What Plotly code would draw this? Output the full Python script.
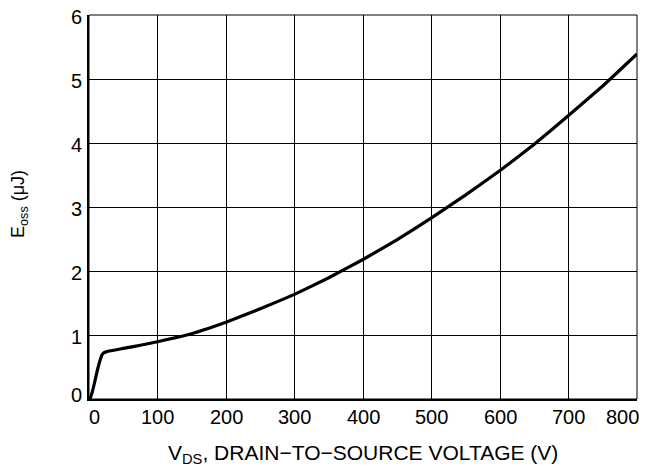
import plotly.graph_objects as go

vds = [0, 2, 4, 8, 12, 16, 19, 22, 26, 50, 75, 100, 125, 150, 175, 200, 250, 300, 350,
       400, 450, 500, 550, 600, 650, 700, 750, 800]
eoss = [0, 0.02, 0.08, 0.25, 0.44, 0.6, 0.69, 0.725, 0.74, 0.79, 0.84, 0.895, 0.955,
        1.02, 1.105, 1.2, 1.41, 1.635, 1.895, 2.18, 2.49, 2.83, 3.19, 3.57, 3.98,
        4.43, 4.89, 5.39]

x_ticks = [0, 100, 200, 300, 400, 500, 600, 700, 800]
x_ticktext = ["0", "100", "200", "300", "400", "500", "600", "700", "800"]
y_ticks = [0, 1, 2, 3, 4, 5, 6]
y_ticktext = ["0", "1", "2", "3", "4", "5", "6"]

x_title = "V<sub>DS</sub>, DRAIN\u2212TO\u2212SOURCE VOLTAGE (V)"
y_title = "E<sub>oss</sub> (\u03bcJ)"

font = "Liberation Sans, Arial, Helvetica, sans-serif"

fig = go.Figure()
fig.add_trace(go.Scatter(x=vds, y=eoss, mode="lines",
                         line=dict(color="black", width=3.2, shape="spline", smoothing=0.3),
                         showlegend=False, hoverinfo="skip"))

# tick labels as annotations so the end labels can sit inside the frame
annots = []
for i, (v, t) in enumerate(zip(x_ticks, x_ticktext)):
    shift = 0
    if i == 0:
        shift = 5
    elif i == len(x_ticks) - 1:
        shift = -15
    annots.append(dict(text=t, x=v, xref="x", y=0, yref="paper", xanchor="center",
                       yanchor="middle", yshift=-18, xshift=shift, showarrow=False,
                       font=dict(size=20)))
for i, (v, t) in enumerate(zip(y_ticks, y_ticktext)):
    shift = -1.5
    if i == 0:
        shift = 4
    elif i == len(y_ticks) - 1:
        shift = -2
    annots.append(dict(text=t, x=0, xref="paper", y=v, yref="y", xanchor="right",
                       yanchor="middle", xshift=-5, yshift=shift, showarrow=False,
                       font=dict(size=20)))

annots += [
    dict(text=x_title, xref="paper", yref="paper", x=0.5, y=0, xanchor="center",
         yanchor="middle", yshift=-55, showarrow=False, font=dict(size=21)),
    dict(text=y_title, xref="paper", yref="paper", x=0, y=0.508, xanchor="center",
         yanchor="middle", xshift=-69, textangle=-90, showarrow=False,
         font=dict(size=18)),
]

# page body has an 8px margin: figure sized to fit the 647x467 window
fig.update_layout(
    width=631, height=459,
    margin=dict(l=81, r=2, t=7, b=68),
    paper_bgcolor="white", plot_bgcolor="white",
    font=dict(family=font, color="black", size=20),
    shapes=[dict(type="rect", xref="paper", yref="paper", x0=0, y0=0, x1=1, y1=1,
                 line=dict(color="black", width=1), layer="above")],
    annotations=annots,
)
fig.update_xaxes(range=[0, 800], tickvals=x_ticks, showticklabels=False,
                 showgrid=True, gridcolor="black", gridwidth=1,
                 showline=True, linecolor="black", linewidth=2,
                 zeroline=False, ticks="", ticklen=0, automargin=False)
fig.update_yaxes(range=[0, 6], tickvals=y_ticks, showticklabels=False,
                 showgrid=True, gridcolor="black", gridwidth=1,
                 showline=True, linecolor="black", linewidth=2,
                 zeroline=False, ticks="", ticklen=0, automargin=False)

fig.write_html("out.html")
